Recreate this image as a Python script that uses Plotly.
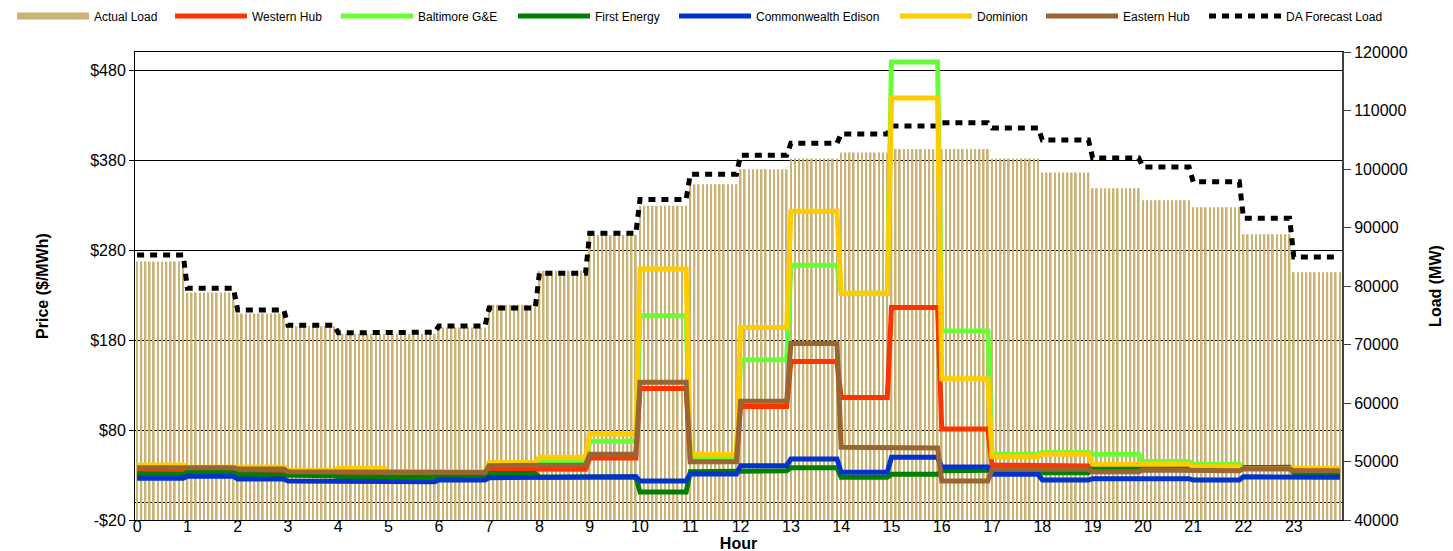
import numpy as np
import plotly.graph_objects as go

# ---------------- data (hourly values) ----------------
hours = list(range(24))
hour_labels = [str(h) for h in hours]
intervals_per_hour = 12  # 5-minute intervals

actual_load = [84200, 78900, 75300, 73100, 71850, 71850, 72900, 76800, 82600, 88700,
               93700, 97400, 99950, 101800, 102800, 103400, 103400, 101800, 99400, 96700,
               94650, 93450, 88850, 82350]
da_forecast_load = [85300, 79600, 75900, 73300, 72000, 72100, 73150, 76250, 82200, 89000,
                    94800, 99100, 102350, 104400, 106000, 107350, 107900, 107000, 104950, 101900,
                    100350, 97800, 91600, 84950]

western_hub = [36, 37, 33.7, 31.8, 30.7, 31, 32, 36.6, 36.3, 49,
               126, 45, 106, 156, 116, 216, 81, 41, 40, 39,
               38.5, 38, 37, 35]
baltimore_ge = [40, 38, 37.5, 34.5, 35.5, 32.5, 33, 42, 44.8, 67.5,
                207, 49.5, 158, 263, 232, 489, 190, 53, 55, 53,
                45, 42, 37, 35.5]
first_energy = [31, 33, 30.4, 29.2, 27.8, 27.8, 29.2, 31.8, 27.5, 28,
                11, 33.7, 34.8, 38.1, 27.4, 30.7, 34.8, 35.6, 32.6, 38.1,
                38, 37.5, 38.5, 32.6]
commonwealth_edison = [26.3, 28.5, 25.5, 23.3, 22.6, 22.6, 24.4, 27, 27.4, 28.1,
                       23.3, 31.1, 40.4, 47.8, 33, 49.6, 38.8, 30.7, 24.4, 25.9,
                       25.9, 24.4, 28.1, 27.4]
dominion = [41.1, 38.5, 38.9, 35, 37.4, 34, 33.5, 44, 49.6, 75.5,
            259, 53, 194, 323, 232, 449, 137, 50.4, 53.3, 41.9,
            42.2, 39.3, 37, 37.5]
eastern_hub = [38.1, 38.1, 36.7, 33.7, 33.7, 32.9, 32.9, 40.4, 41.1, 53,
               133, 44.8, 112, 176, 60.7, 60, 23.3, 36.3, 36.3, 33.7,
               35.6, 34.8, 37, 34.8]

price_series = [
    ("Western Hub", western_hub, "#FF3300"),
    ("Baltimore G&E", baltimore_ge, "#66FF33"),
    ("First Energy", first_energy, "#008000"),
    ("Commonwealth Edison", commonwealth_edison, "#0033CC"),
    ("Dominion", dominion, "#FFCC00"),
    ("Eastern Hub", eastern_hub, "#996633"),
]

price_ticks = [-20, 80, 180, 280, 380, 480]
price_ticktext = ["-$20", "$80", "$180", "$280", "$380", "$480"]

LOAD_COLOR = "#CBB275"
FONT = "Liberation Sans, Arial, sans-serif"
W, H = 1453, 551
PAGE_OFFSET = 8  # default <body> margin of the written html page

# left edge (px) of each legend swatch, in legend order
legend_swatch_px = [17, 175, 341, 518, 679, 900, 1046, 1209]

# ---------------- build 5-minute series ----------------
n = len(hours) * intervals_per_hour
x = np.arange(n)


def expand(v):
    return np.repeat(np.asarray(v, dtype=float), intervals_per_hour)


def legend_id(i):
    return "legend" if i == 0 else f"legend{i + 1}"


fig = go.Figure()

fig.add_trace(go.Bar(
    x=x, y=expand(actual_load), name="Actual Load",
    marker=dict(color=LOAD_COLOR, line=dict(width=0)),
    xaxis="x", yaxis="y", showlegend=False,
))
# legend entry for the load bars (drawn as a thick band like the original)
fig.add_trace(go.Scatter(
    x=[None], y=[None], name="Actual Load", mode="lines",
    line=dict(color=LOAD_COLOR, width=7),
    xaxis="x", yaxis="y", legend=legend_id(0),
))

for k, (name, vals, col) in enumerate(price_series):
    fig.add_trace(go.Scatter(
        x=x, y=expand(vals), name=name, mode="lines",
        line=dict(color=col, width=5),
        xaxis="x2", yaxis="y2", legend=legend_id(k + 1),
    ))

fig.add_trace(go.Scatter(
    x=x, y=expand(da_forecast_load), name="DA Forecast Load", mode="lines",
    line=dict(color="black", width=5, dash="7px,6px"),
    xaxis="x", yaxis="y", legend=legend_id(7),
))

legends = {}
for i, sx in enumerate(legend_swatch_px):
    legends[legend_id(i)] = dict(
        orientation="h", xref="container", yref="container",
        x=(sx - 13) / W, y=1 - (16 - PAGE_OFFSET) / H,
        xanchor="left", yanchor="middle",
        font=dict(size=12, family=FONT, color="black"), itemwidth=72,
        bgcolor="rgba(0,0,0,0)", borderwidth=0,
    )

xr = [-0.5, n - 0.5]
fig.update_layout(
    width=W, height=H,
    margin=dict(l=135 - PAGE_OFFSET, r=W - 1342 + PAGE_OFFSET,
                t=52 - PAGE_OFFSET, b=H - 520 + PAGE_OFFSET, autoexpand=False),
    paper_bgcolor="white", plot_bgcolor="white",
    font=dict(family=FONT, size=16, color="black"),
    bargap=0.58,
    showlegend=True,
    **legends,
    xaxis=dict(
        range=xr, anchor="y",
        tickmode="array",
        tickvals=[h * intervals_per_hour for h in hours],
        ticktext=hour_labels,
        ticks="", showgrid=False, zeroline=False,
        showline=True, linecolor="black", linewidth=1, mirror=True,
        title=dict(text="<b>Hour</b>", standoff=2, font=dict(size=16)),
        tickfont=dict(size=16),
        ticklabelstandoff=-8,
        automargin=False,
    ),
    xaxis2=dict(
        range=xr, overlaying="x", anchor="free", position=20 / 520,
        side="bottom", showticklabels=False,
        tickmode="linear", tick0=0, dtick=1,
        ticks="outside", ticklen=5, tickwidth=1, tickcolor="black",
        showline=True, linecolor="black", linewidth=1,
        showgrid=False, zeroline=False, layer="below traces",
    ),
    yaxis=dict(
        range=[40000, 120000], side="right", anchor="x",
        tickmode="linear", tick0=40000, dtick=10000, tickformat="d",
        ticks="outside", ticklen=7, tickcolor="#404040",
        showgrid=False, zeroline=False,
        showline=True, linecolor="#404040", linewidth=2,
        title=dict(text="<b>Load (MW)</b>", font=dict(size=16), standoff=23),
        tickfont=dict(size=16),
        automargin=False,
    ),
    yaxis2=dict(
        range=[-20, 500], side="left", overlaying="y", anchor="x2",
        tickmode="array", tickvals=price_ticks, ticktext=price_ticktext,
        ticks="outside", ticklen=5, tickcolor="black",
        showgrid=True, gridcolor="black", gridwidth=1,
        zeroline=False,
        showline=True, linecolor="black", linewidth=1,
        title=dict(text="<b>Price ($/MWh)</b>", font=dict(size=16), standoff=37),
        tickfont=dict(size=16),
        automargin=False,
    ),
)

fig.write_html("out.html")
